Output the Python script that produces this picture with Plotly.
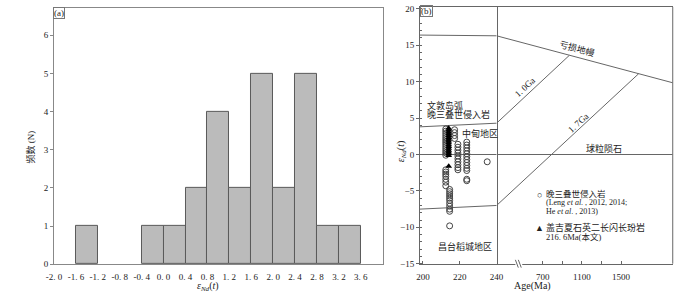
import plotly.graph_objects as go

W, H = 700, 295
def px(x): return x / W
def py(y): return 1 - y / H

# ---------------- Panel (a) data ----------------
bin_left = [-1.6, -1.2, -0.8, -0.4, 0.0, 0.4, 0.8, 1.2, 1.6, 2.0, 2.4, 2.8, 3.2]
counts   = [1, 0, 0, 1, 1, 2, 4, 2, 5, 2, 5, 1, 1]
bin_w = 0.4
a_xticks = [-2.0, -1.6, -1.2, -0.8, -0.4, 0.0, 0.4, 0.8, 1.2, 1.6, 2.0, 2.4, 2.8, 3.2, 3.6]
a_xticklabels = ["-2. 0", "-1. 6", "-1. 2", "-0. 8", "-0. 4", "0. 0", "0. 4", "0. 8",
                 "1. 2", "1. 6", "2. 0", "2. 4", "2. 8", "3. 2", "3. 6"]
a_yticks = [0, 1, 2, 3, 4, 5, 6]

# ---------------- Panel (b) data ----------------
circ_groups = {
    212.4: [3.5, 3.2, 2.9, 2.6, 2.3, 2.0, 1.7, 1.4, 1.1, 0.8, 0.5, 0.2, -0.1,
            -2.1, -2.4, -2.7, -3.0, -3.4, -3.8, -4.3],
    214.5: [-4.8, -5.1, -5.4, -5.7, -6.0, -6.3, -6.7, -7.1, -7.5, -7.8, -9.8],
    217.2: [3.4, 3.0, 2.6, 2.2],
    219.0: [1.4, 1.0, 0.6, 0.2, -0.2, -0.6, -1.0, -1.4, -1.8, -2.1],
    223.8: [1.7, 1.3, 0.9, 0.5, 0.1, -0.3, -0.7, -1.1, -1.5, -1.9, -2.2, -3.4, -3.6],
    234.9: [-1.0],
}
circ_age = [a for a, v in circ_groups.items() for _ in v]
circ_eps = [e for v in circ_groups.values() for e in v]

tri_age_val = 214.0
tri_eps = [3.6, 3.35, 3.1, 2.85, 2.6, 2.35, 2.1, 1.85, 1.6, 1.35, 1.1, 0.85,
           0.6, 0.35, 0.1, -0.15, -1.6]
tri_age = [tri_age_val] * len(tri_eps)

# reference lines, left (200-240 Ma) segment
seg1_age = [198.4, 240.0]
dm_left = [16.4, 16.3]
arc_up_left = [3.8, 4.3]
arc_low_left = [-7.5, -7.0]
chur_left = [0, 0]
# right (broken) segment
seg2_range = [228, 2028]
dm_right_age = [228, 2028]
dm_right = [16.3, 9.85]
ga10_age = [228, 970]
ga10_eps = [4.3, 13.6]
ga17_age = [228, 1680]
ga17_eps = [-7.0, 11.1]
chur_right_age = [228, 2028]
chur_right = [0, 0]

b_xticks1 = [200, 220, 240]
b_xticks2 = [700, 900, 1100, 1300, 1500]
b_xticklabels2 = ["700", " ", "1100", " ", "1500"]
b_yticks = [-15, -10, -5, 0, 5, 10, 15, 20]

FONT = "Liberation Serif, Noto Sans CJK SC"
LINE = "#666666"
TXT = "#222222"

fig = go.Figure()

# histogram bars (empty bins are not drawn)
bx = [l + bin_w / 2 for l, c in zip(bin_left, counts) if c > 0]
by = [c for c in counts if c > 0]
fig.add_trace(go.Bar(
    x=bx, y=by, width=bin_w,
    marker=dict(color="#bbbbbb", line=dict(color="#5a5a5a", width=1)),
    xaxis="x", yaxis="y", showlegend=False))

# panel b lines
def ln(x, y, xa):
    fig.add_trace(go.Scatter(x=x, y=y, mode="lines", line=dict(color=LINE, width=1),
                             xaxis=xa, yaxis="y2", showlegend=False, hoverinfo="skip"))

ln(seg1_age, dm_left, "x2")
ln(seg1_age, arc_up_left, "x2")
ln(seg1_age, arc_low_left, "x2")
ln(seg1_age, chur_left, "x2")
ln(dm_right_age, dm_right, "x3")
ln(ga10_age, ga10_eps, "x3")
ln(ga17_age, ga17_eps, "x3")
ln(chur_right_age, chur_right, "x3")

fig.add_trace(go.Scatter(x=circ_age, y=circ_eps, mode="markers",
                         marker=dict(symbol="circle-open", size=6, color="#444444",
                                     line=dict(width=1)),
                         xaxis="x2", yaxis="y2", showlegend=False))
fig.add_trace(go.Scatter(x=tri_age, y=tri_eps, mode="markers",
                         marker=dict(symbol="triangle-up", size=6, color="#000000"),
                         xaxis="x2", yaxis="y2", showlegend=False))

tickfont = dict(family=FONT, size=9, color=TXT)

fig.update_layout(
    width=W, height=H, margin=dict(l=0, r=0, t=0, b=0),
    paper_bgcolor="white", plot_bgcolor="white",
    font=dict(family=FONT, size=9, color=TXT),
    bargap=0,
    xaxis=dict(domain=[px(47), px(383)], range=[-2.0, 4.0], anchor="y",
               showline=True, linecolor="#888888", linewidth=1, mirror=True,
               tickvals=a_xticks, ticktext=a_xticklabels, ticks="",
               showgrid=False, zeroline=False, tickfont=tickfont,
               ticklabelstandoff=4),
    yaxis=dict(domain=[py(268.5), py(5)], range=[0, 6.72], anchor="x",
               showline=True, linecolor="#888888", linewidth=1, mirror=True,
               tickvals=a_yticks, ticks="outside", ticklen=3, tickcolor="#888888",
               showgrid=False, zeroline=False, tickfont=tickfont),
    xaxis2=dict(domain=[px(421), px(499.3)], range=[198.4, 240], anchor="y2",
                showline=True, linecolor=LINE, linewidth=1, mirror=True,
                tickvals=b_xticks1, ticks="inside", ticklen=3, tickcolor=LINE,
                showgrid=False, zeroline=False, tickfont=tickfont,
                ticklabelstandoff=4),
    xaxis3=dict(domain=[px(499.3), px(679.3)], range=seg2_range, anchor="y2",
                showline=True, linecolor=LINE, linewidth=1, mirror=True,
                tickvals=b_xticks2, ticktext=b_xticklabels2, ticks="inside",
                ticklen=3, tickcolor=LINE, showgrid=False, zeroline=False,
                tickfont=tickfont, ticklabelstandoff=4),
    yaxis2=dict(domain=[py(268), py(4)], range=[-15, 20.27], anchor="x2",
                showline=True, linecolor=LINE, linewidth=1, mirror=True,
                tickvals=b_yticks, ticks="outside", ticklen=3, tickcolor=LINE,
                minor=dict(dtick=1, ticks="inside", ticklen=2, tickcolor=LINE),
                showgrid=False, zeroline=False, tickfont=tickfont),
)

shapes = [
    # right border of panel b
    dict(type="line", xref="paper", yref="paper", x0=px(679.3), x1=px(679.3),
         y0=py(268), y1=py(4), line=dict(color=LINE, width=1)),
    # break in bottom axis
    dict(type="rect", xref="paper", yref="paper", x0=px(518.5), x1=px(525.5),
         y0=py(270), y1=py(266.5), fillcolor="white", line=dict(width=0), layer="above"),
    dict(type="line", xref="paper", yref="paper", x0=px(518.5), x1=px(521.5),
         y0=py(264), y1=py(272), line=dict(color=LINE, width=1), layer="above"),
    dict(type="line", xref="paper", yref="paper", x0=px(521.5), x1=px(524.5),
         y0=py(264), y1=py(272), line=dict(color=LINE, width=1), layer="above"),
]
fig.update_layout(shapes=shapes)

ann = []
def A(x, y, text, size=9, xanchor="center", angle=0, yanchor="middle", **kw):
    ann.append(dict(x=px(x), y=py(y), xref="paper", yref="paper", text=text,
                    showarrow=False, xanchor=xanchor, yanchor=yanchor,
                    textangle=angle, font=dict(family=FONT, size=size, color=TXT), **kw))

A(52.5, 10, "(a)", size=9, borderpad=0, bordercolor="#777777", borderwidth=1)
A(427.5, 8.5, "(b)", size=9, borderpad=0, bordercolor="#777777", borderwidth=1)
A(24, 148, "频数 (N)", size=9, angle=-90)
A(204, 295, "<i>ε</i><sub><i>Nd</i></sub>(<i>t</i>)", size=10, yanchor="bottom", yshift=-5)
A(402, 152, "<i>ε</i><sub><i>Nd</i></sub>(<i>t</i>)", size=10, angle=-90)
A(536, 295, "Age(Ma)", size=10, yanchor="bottom", yshift=-4)

A(581.7, 46.5, "亏损地幔", size=9, angle=15)
A(528.5, 86.5, "1. 0Ga", size=9, angle=-43)
A(582.5, 123, "1. 7Ga", size=9, angle=-43)
A(609, 150, "球粒陨石", size=9)
A(426.5, 105, "文敦岛弧", size=9, xanchor="left")
A(426.5, 114.5, "晚三叠世侵入岩", size=9, xanchor="left")
A(462, 134, "中甸地区", size=9, xanchor="left")
A(437.5, 250, "昌台稻城地区", size=9, xanchor="left")

A(543.5, 197, "○", size=9)
A(548, 196.5, "晚三叠世侵入岩", size=8.5, xanchor="left")
A(548, 205.5, "(Leng <i>et al</i>. , 2012, 2014;", size=8, xanchor="left")
A(548, 214, "He <i>et al</i>. , 2013)", size=8, xanchor="left")
A(543.5, 231.5, "▲", size=9)
A(548, 231, "盖吉夏石英二长闪长玢岩", size=9, xanchor="left")
A(548, 240.5, "216. 6Ma(本文)", size=8.5, xanchor="left")

fig.update_layout(annotations=ann)
fig.write_html("out.html", config={"displayModeBar": False},
               post_script="document.body.style.margin='0px';document.body.style.padding='0px';")
